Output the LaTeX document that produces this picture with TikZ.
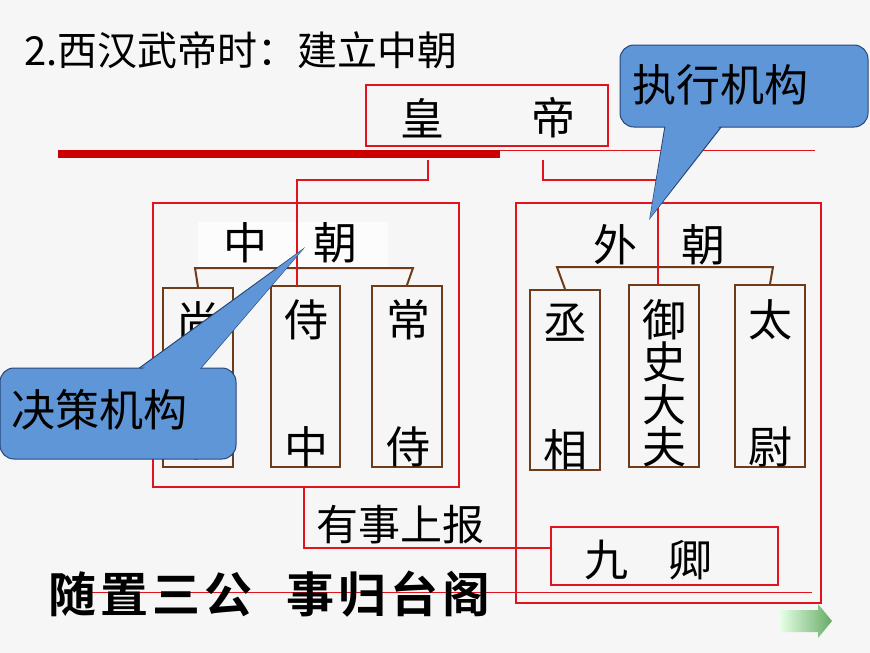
\documentclass[tikz,border=0pt]{standalone}
\usepackage{fontspec}
\setmainfont{Noto Sans CJK SC}
\newfontfamily\cjkb[BoldFont={* Bold}]{Noto Sans CJK SC}
\definecolor{hred}{RGB}{225,20,30}
\definecolor{brn}{RGB}{110,60,25}
\definecolor{cblue}{RGB}{95,150,215}
\definecolor{cedge}{RGB}{40,70,120}
\tikzset{
 rbox/.style={draw=hred,line width=1.6pt},
 bbox/.style={draw=brn,line width=2pt},
 rl/.style={draw=hred,line width=1.6pt},
 bl/.style={draw=brn,line width=2pt},
 big/.style={font=\fontsize{44}{44}\selectfont,inner sep=0pt},
 call/.style={fill=cblue,draw=cedge,line width=1pt,rounded corners=14pt},
}
\begin{document}
\begin{tikzpicture}[x=1pt,y=-1pt]
\useasboundingbox (0,0) rectangle (870,653);
\fill[gray!7] (0,0) rectangle (870,653);
\node[anchor=west,font=\fontsize{40}{40}\selectfont,inner sep=0pt] (title) at (24,50) {2.西汉武帝时：建立中朝};
% emperor
\node[rbox,minimum width=242pt,minimum height=61pt] (emp) at (487,115.5) {};
\node[big] (huang) at (422,118) {皇};
\node[big] (di) at (553,118) {帝};
\fill[red!80!black] (58,150) rectangle (500,158);
\draw[hred,line width=1pt] (500,150) -- (815,150);
% outer boxes
\node[rbox,minimum width=306pt,minimum height=284pt] (zc) at (306,345) {};
\node[rbox,minimum width=305pt,minimum height=400pt] (wc) at (668.5,403) {};
\coordinate (eL) at (428,160);
\coordinate (eR) at (543,160);
% sub boxes
\node[bbox,minimum width=70pt,minimum height=179pt] (sh) at (198,377.5) {};
\node[bbox,minimum width=69pt,minimum height=181pt] (sz) at (305.5,376.5) {};
\node[bbox,minimum width=70pt,minimum height=181pt] (cs) at (407,376.5) {};
\node[bbox,minimum width=70pt,minimum height=180pt] (cx) at (565,380) {};
\node[bbox,minimum width=70pt,minimum height=182pt] (ys) at (664,376) {};
\node[bbox,minimum width=70pt,minimum height=182pt] (tw) at (770,376) {};
\coordinate (szt) at (297,286);
\coordinate (yst) at (658,285);
% titles
\fill[gray!2] (198,222) rectangle (388,268);
\node[big] (zh1) at (245,243) {中};
\node[big] (zh2) at (335,243) {朝};
\node[big] (wa1) at (615,245) {外};
\node[big] (wa2) at (703,245) {朝};
\draw[bl] (sh.north) -- (195,268) -- (413,268) -- (cs.north);
\draw[bl] (297,268) -- (szt);
\draw[bl] (cx.north) -- (557,267) -- (773,267) -- (tw.north);
\draw[bl] (658,267) -- (yst);
\draw[rl] (eL) -- (428,180) -| (szt);
\draw[rl] (eR) -- (543,180) -| (yst);
% texts in boxes
\node[big] at (198,322) {尚};
\node[big] at (198,440) {书};
\node[big] at (306,320) {侍};
\node[big] at (306,447) {中};
\node[big] at (408,320) {常};
\node[big] at (408,447) {侍};
\node[big] at (565,323) {丞};
\node[big] at (565,450) {相};
\node[big] at (664,320) {御};
\node[big] at (664,362) {史};
\node[big] at (664,405) {大};
\node[big] at (664,447) {夫};
\node[big] at (770,320) {太};
\node[big] at (770,447) {尉};
% jiuqing
\node[rbox,minimum width=227pt,minimum height=58pt] (jq) at (664.5,556) {};
\node[big] at (606,560) {九};
\node[big] at (690,560) {卿};
\draw[rl] (304,487) -- (304,548) -- (jq.west |- 0,548);
\node[big,font=\fontsize{42}{42}\selectfont] (ysb) at (400,525) {有事上报};
\draw[hred,line width=0.8pt] (85,592) -- (812,592);
\node[anchor=west,inner sep=0pt,font=\cjkb\bfseries\fontsize{48}{48}\selectfont] (bt) at (48,594) {随\hspace{4pt}置\hspace{4pt}三\hspace{4pt}公\hspace{34pt}事\hspace{4pt}归\hspace{4pt}台\hspace{4pt}阁};
% callouts
\fill[cblue,draw=cedge,line width=1pt] (665,126) -- (650,218) -- (722,126) -- cycle;
\draw[call] (620,45) rectangle (868,127);
\fill[cblue] (666,124) -- (650,218) -- (721,124) -- cycle;
\node[big] (zx) at (720,85) {执行机构};
\fill[cblue,draw=cedge,line width=1pt] (138,369) -- (302,250) -- (200,369) -- cycle;
\draw[call] (0,368) rectangle (236,459);
\fill[cblue] (140,371) -- (302,250) -- (198,371) -- cycle;
\node[big] (jc) at (100,410) {决策机构};
% green arrow
\shade[left color=green!10,right color=green!45!black!60] (780,610) -- (818,610) -- (818,604) -- (832,621) -- (818,638) -- (818,632) -- (780,632) -- cycle;
\end{tikzpicture}
\end{document}
